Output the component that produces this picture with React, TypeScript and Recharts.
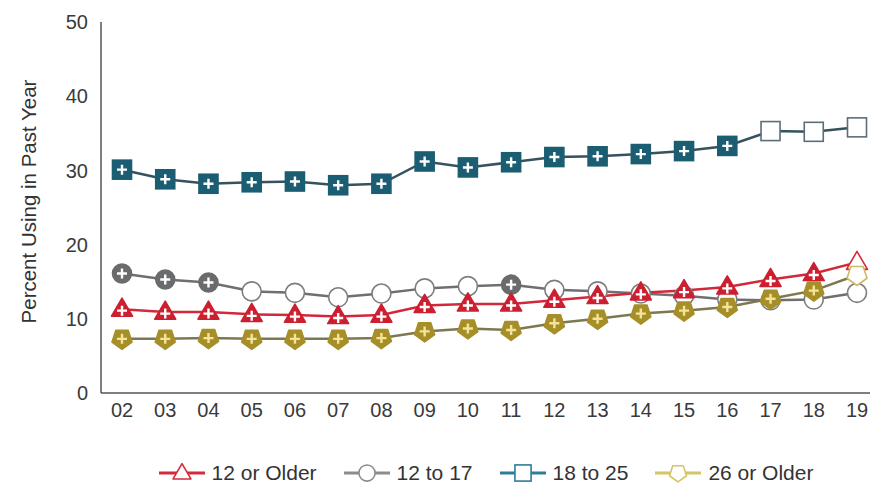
import { LineChart, Line, XAxis, YAxis, Legend } from 'recharts'

// survey years (20xx)
const years = ['02', '03', '04', '05', '06', '07', '08', '09', '10', '11', '12', '13', '14', '15', '16', '17', '18', '19']

// percent using in past year
const older12 = [11.3, 10.9, 10.9, 10.6, 10.5, 10.3, 10.5, 11.8, 12.0, 12.0, 12.5, 13.0, 13.5, 13.8, 14.3, 15.3, 16.1, 17.6]
const age12to17 = [16.1, 15.3, 14.9, 13.7, 13.5, 12.9, 13.4, 14.1, 14.4, 14.6, 13.9, 13.7, 13.4, 13.1, 12.6, 12.5, 12.6, 13.5]
const age18to25 = [30.1, 28.8, 28.2, 28.4, 28.5, 28.0, 28.2, 31.2, 30.4, 31.1, 31.8, 31.9, 32.2, 32.6, 33.3, 35.3, 35.2, 35.8]
const older26 = [7.3, 7.3, 7.4, 7.3, 7.3, 7.3, 7.4, 8.3, 8.7, 8.5, 9.4, 10.0, 10.7, 11.1, 11.6, 12.7, 13.8, 15.9]

// filled "+" marker = estimate differs from 2019
const sigOlder12 = [1, 1, 1, 1, 1, 1, 1, 1, 1, 1, 1, 1, 1, 1, 1, 1, 1, 0]
const sig12to17 = [1, 1, 1, 0, 0, 0, 0, 0, 0, 1, 0, 0, 0, 0, 0, 0, 0, 0]
const sig18to25 = [1, 1, 1, 1, 1, 1, 1, 1, 1, 1, 1, 1, 1, 1, 1, 0, 0, 0]
const sigOlder26 = [1, 1, 1, 1, 1, 1, 1, 1, 1, 1, 1, 1, 1, 1, 1, 1, 1, 0]

const yTicks = [0, 10, 20, 30, 40, 50]

const data = years.map((year, i) => ({
  year,
  older12: older12[i],
  age12to17: age12to17[i],
  age18to25: age18to25[i],
  older26: older26[i]
}))

type Shape = 'triangle' | 'circle' | 'square' | 'pentagon'

interface Style {
  shape: Shape
  fill: string
  plus: string
  open: string
  legendLine: string
}

const styles: Record<string, Style> = {
  older12: { shape: 'triangle', fill: '#cc1f30', plus: '#ffffff', open: '#d42b3b', legendLine: '#d42b3b' },
  age12to17: { shape: 'circle', fill: '#6a6b6d', plus: '#ffffff', open: '#7d7d7f', legendLine: '#8c8c8c' },
  age18to25: { shape: 'square', fill: '#1b5d72', plus: '#ffffff', open: '#5b6e77', legendLine: '#2e7d98' },
  older26: { shape: 'pentagon', fill: '#a68f28', plus: '#f3e49a', open: '#cdbb62', legendLine: '#d6c466' }
}

const font = '"Liberation Sans", Arial, sans-serif'

function outline(shape: Shape, cx: number, cy: number, s: number) {
  if (shape === 'triangle') {
    const pts = [[cx, cy - 11 * s], [cx - 10.5 * s, cy + 7 * s], [cx + 10.5 * s, cy + 7 * s]]
    return { points: pts.map(p => p.join(',')).join(' '), plusY: cy + 1.5 * s }
  }
  // point-down pentagon
  const r = 10.5 * s
  const pts = [0, 1, 2, 3, 4].map(k => {
    const a = Math.PI / 2 + (k * 2 * Math.PI) / 5
    return [cx + r * Math.cos(a), cy + r * Math.sin(a)]
  })
  return { points: pts.map(p => p.join(',')).join(' '), plusY: cy }
}

function Marker({ shape, cx, cy, filled, st, s = 1 }: { shape: Shape; cx: number; cy: number; filled: boolean; st: Style; s?: number }) {
  const fill = filled ? st.fill : '#ffffff'
  const stroke = filled ? st.fill : st.open
  let body
  let plusY = cy
  if (shape === 'square') {
    body = <rect x={cx - 9.5 * s} y={cy - 9.5 * s} width={19 * s} height={19 * s} fill={fill} stroke={stroke} strokeWidth={1.6} />
  } else if (shape === 'circle') {
    body = <circle cx={cx} cy={cy} r={9.5 * s} fill={fill} stroke={stroke} strokeWidth={1.6} />
  } else {
    const o = outline(shape, cx, cy, s)
    plusY = o.plusY
    body = <polygon points={o.points} fill={fill} stroke={stroke} strokeWidth={1.6} strokeLinejoin="round" />
  }
  return (
    <g>
      {body}
      {filled && (
        <path
          d={`M${cx - 5} ${plusY}H${cx + 5}M${cx} ${plusY - 5}V${plusY + 5}`}
          stroke={st.plus}
          strokeWidth={2.4}
        />
      )}
    </g>
  )
}

function makeDot(key: string, sig: number[]) {
  const st = styles[key]
  return (props: any) => {
    const { cx, cy, index } = props
    if (cx == null || cy == null) return <g key={`${key}-${index}`} />
    return (
      <g key={`${key}-${index}`}>
        <Marker shape={st.shape} cx={cx} cy={cy} filled={sig[index] === 1} st={st} />
      </g>
    )
  }
}

const legendItems = [
  { key: 'older12', label: '12 or Older' },
  { key: 'age12to17', label: '12 to 17' },
  { key: 'age18to25', label: '18 to 25' },
  { key: 'older26', label: '26 or Older' }
]

function LegendContent() {
  return (
    <div
      style={{
        height: 30,
        paddingTop: 6,
        boxSizing: 'border-box',
        display: 'flex',
        justifyContent: 'center',
        alignItems: 'center',
        gap: 26,
        fontFamily: font,
        fontSize: 21,
        color: '#333'
      }}
    >
      {legendItems.map(item => {
        const st = styles[item.key]
        return (
          <div key={item.key} style={{ display: 'flex', alignItems: 'center' }}>
            <svg width={48} height={24} style={{ marginRight: 6 }}>
              <line x1={1} y1={12} x2={47} y2={12} stroke={st.legendLine} strokeWidth={3} />
              <Marker shape={st.shape} cx={24} cy={12} filled={false} st={{ ...st, open: st.legendLine }} s={0.85} />
            </svg>
            <span style={{ lineHeight: '24px' }}>{item.label}</span>
          </div>
        )
      })}
    </div>
  )
}

function YLabel(props: any) {
  const { viewBox } = props
  const x = 28
  const y = viewBox.y + viewBox.height / 2 - 6
  return (
    <text
      x={x}
      y={y}
      transform={`rotate(-90, ${x}, ${y})`}
      textAnchor="middle"
      dominantBaseline="central"
      fontFamily={font}
      fontSize={20.5}
      fill="#333"
    >
      Percent Using in Past Year
    </text>
  )
}

export default function App() {
  return (
    <div style={{ position: 'absolute', left: 0, top: 0, width: 872, height: 485, background: '#fff' }}>
      <LineChart width={872} height={485} data={data} margin={{ top: 22, right: 2, bottom: 0, left: 0 }}>
        <XAxis
          dataKey="year"
          height={62}
          padding={{ left: 21, right: 13 }}
          tickLine={false}
          tickMargin={4}
          axisLine={{ stroke: '#555', strokeWidth: 1.5 }}
          tick={{ fill: '#3a3a3a', fontSize: 20, fontFamily: font }}
          interval={0}
        />
        <YAxis
          width={101}
          domain={[0, 50]}
          ticks={yTicks}
          tickLine={false}
          tickMargin={7}
          axisLine={{ stroke: '#555', strokeWidth: 1.5 }}
          tick={{ fill: '#3a3a3a', fontSize: 20, fontFamily: font }}
          label={<YLabel />}
        />
        <Legend verticalAlign="bottom" content={() => <LegendContent />} wrapperStyle={{ left: 101, width: 769 }} />
        <Line
          type="linear"
          dataKey="age18to25"
          stroke="#35525d"
          strokeWidth={2.5}
          dot={makeDot('age18to25', sig18to25)}
          activeDot={false}
          isAnimationActive={false}
        />
        <Line
          type="linear"
          dataKey="age12to17"
          stroke="#6f6f71"
          strokeWidth={2.5}
          dot={makeDot('age12to17', sig12to17)}
          activeDot={false}
          isAnimationActive={false}
        />
        <Line
          type="linear"
          dataKey="older12"
          stroke="#d3283a"
          strokeWidth={2.5}
          dot={makeDot('older12', sigOlder12)}
          activeDot={false}
          isAnimationActive={false}
        />
        <Line
          type="linear"
          dataKey="older26"
          stroke="#7d7850"
          strokeWidth={2.5}
          dot={makeDot('older26', sigOlder26)}
          activeDot={false}
          isAnimationActive={false}
        />
      </LineChart>
    </div>
  )
}
